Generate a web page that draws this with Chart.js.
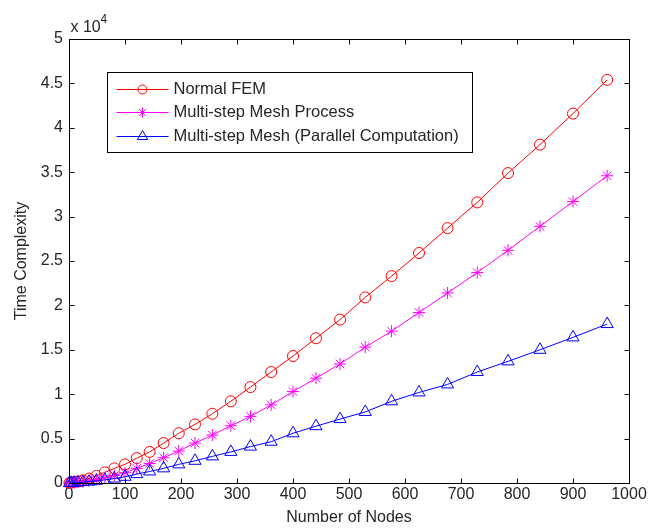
<!DOCTYPE html>
<html>
<head>
<meta charset="utf-8">
<title>Time Complexity vs Number of Nodes</title>
<script src="https://cdn.jsdelivr.net/npm/chart.js@4/dist/chart.umd.min.js"></script>
<style>
  html, body { margin: 0; padding: 0; background: #fff; }
  canvas { display: block; }
</style>
</head>
<body>
<canvas id="complexityChart" width="659" height="529"></canvas>
<script>
// node counts (n^2 grid sizes)
var nodes = [1, 4, 9, 16, 25, 36, 49, 64, 81, 100, 121, 144, 169, 196, 225, 256,
             289, 324, 361, 400, 441, 484, 529, 576, 625, 676, 729, 784, 841, 900, 961];

var normalFem = [10, 50, 100, 180, 300, 500, 800, 1200, 1650, 2100, 2800, 3500, 4500, 5600, 6600, 7800,
                 9200, 10800, 12500, 14300, 16300, 18400, 20900, 23300, 25900, 28700, 31600, 34900, 38100, 41600, 45400];

var multiStep = [0, 20, 50, 100, 150, 250, 400, 600, 850, 1160, 1650, 2200, 2850, 3600, 4500, 5400,
                 6450, 7500, 8800, 10300, 11800, 13400, 15300, 17100, 19200, 21400, 23700, 26200, 28900, 31700, 34600];

var multiStepParallel = [0, 10, 30, 50, 100, 150, 250, 350, 500, 700, 1000, 1300, 1650, 2100, 2500, 3000,
                         3500, 4100, 4650, 5600, 6400, 7200, 8000, 9200, 10200, 11100, 12500, 13700, 15000, 16400, 17900];

var seriesNames = ['Normal FEM', 'Multi-step Mesh Process', 'Multi-step Mesh (Parallel Computation)'];

var xTicks = [0, 100, 200, 300, 400, 500, 600, 700, 800, 900, 1000];
var yTicks = [0, 5000, 10000, 15000, 20000, 25000, 30000, 35000, 40000, 45000, 50000];

var FONT = '"Liberation Sans", Arial, Helvetica, sans-serif';
var TEXT = '#262626';

function toPoints(values) {
    return nodes.map(function(n, i) { return { x: n, y: values[i] }; });
}

// inward tick marks, box, exponent label and legend drawn on top of the plot
var matlabAxes = {
    id: 'matlabAxes',
    afterDraw: function(chart) {
        var ctx = chart.ctx;
        var a = chart.chartArea;
        var xs = chart.scales.x, ys = chart.scales.y;
        var L = Math.round(a.left) + 0.5, R = Math.round(a.right) + 0.5;
        var T = Math.round(a.top) + 0.5, B = Math.round(a.bottom) + 0.5;
        var tl = 5;

        ctx.save();
        ctx.strokeStyle = '#000';
        ctx.lineWidth = 1;
        ctx.beginPath();
        xTicks.forEach(function(v) {
            var px = Math.round(xs.getPixelForValue(v)) + 0.5;
            ctx.moveTo(px, B); ctx.lineTo(px, B - tl);
            ctx.moveTo(px, T); ctx.lineTo(px, T + tl);
        });
        yTicks.forEach(function(v) {
            var py = Math.round(ys.getPixelForValue(v)) + 0.5;
            ctx.moveTo(L, py); ctx.lineTo(L + tl, py);
            ctx.moveTo(R, py); ctx.lineTo(R - tl, py);
        });
        ctx.stroke();
        ctx.strokeRect(L, T, R - L, B - T);

        // x 10^4 exponent
        ctx.fillStyle = TEXT;
        ctx.textBaseline = 'alphabetic';
        ctx.textAlign = 'left';
        ctx.font = '16px ' + FONT;
        ctx.fillText('x 10', L + 1, T - 8);
        ctx.font = '12px ' + FONT;
        ctx.fillText('4', L + 31, T - 17);

        // legend
        var bx = L + 38, by = T + 33, bw = 365, bh = 80;
        ctx.fillStyle = '#fff';
        ctx.fillRect(bx, by, bw, bh);
        ctx.strokeStyle = '#000';
        ctx.strokeRect(bx, by, bw, bh);
        ctx.font = '16.5px ' + FONT;
        ctx.textBaseline = 'middle';
        chart.data.datasets.forEach(function(ds, i) {
            var y = Math.round(by + 16 + i * 23.5) + 0.5;
            ctx.strokeStyle = ds.borderColor;
            ctx.fillStyle = 'rgba(0,0,0,0)';
            ctx.lineWidth = 1;
            ctx.beginPath();
            ctx.moveTo(bx + 9, y);
            ctx.lineTo(bx + 61, y);
            ctx.stroke();
            Chart.helpers.drawPoint(ctx, {
                pointStyle: ds.pointStyle,
                radius: ds.pointRadius - 1,
                rotation: 0,
                borderWidth: 1
            }, bx + 35, y);
            ctx.fillStyle = TEXT;
            ctx.fillText(ds.label, bx + 66, y);
        });
        ctx.restore();
    }
};

document.addEventListener('DOMContentLoaded', function() {
    var ctx = document.getElementById('complexityChart').getContext('2d');
    var myChart = new Chart(ctx, {
        type: 'line',
        data: {
            datasets: [{
                label: seriesNames[0],
                data: toPoints(normalFem),
                borderColor: '#ff0000',
                pointStyle: 'circle',
                pointRadius: 5.5,
                order: 3
            }, {
                label: seriesNames[1],
                data: toPoints(multiStep),
                borderColor: '#ff00ff',
                pointStyle: 'star',
                pointRadius: 6,
                order: 2
            }, {
                label: seriesNames[2],
                data: toPoints(multiStepParallel),
                borderColor: '#0000ff',
                pointStyle: 'triangle',
                pointRadius: 7,
                order: 1
            }]
        },
        options: {
            responsive: false,
            animation: false,
            devicePixelRatio: 1,
            layout: { padding: { left: 0, top: 39, right: 30, bottom: 0 } },
            elements: {
                line: { borderWidth: 1, tension: 0, fill: false },
                point: { borderWidth: 1, backgroundColor: 'rgba(0,0,0,0)', hoverRadius: 6 }
            },
            datasets: { line: { clip: false } },
            plugins: {
                legend: { display: false },
                tooltip: { enabled: false }
            },
            scales: {
                x: {
                    type: 'linear',
                    min: 0,
                    max: 1000,
                    afterFit: function(scale) { scale.height = 46; },
                    afterBuildTicks: function(scale) {
                        scale.ticks = xTicks.map(function(v) { return { value: v }; });
                    },
                    grid: { display: false, drawTicks: false },
                    border: { display: false },
                    ticks: {
                        padding: 2,
                        maxRotation: 0,
                        color: TEXT,
                        font: { family: FONT, size: 16 },
                        callback: function(v) { return String(v); }
                    },
                    title: {
                        display: true,
                        text: 'Number of Nodes',
                        color: TEXT,
                        padding: { top: 0, bottom: 2 },
                        font: { family: FONT, size: 16 }
                    }
                },
                y: {
                    type: 'linear',
                    min: 0,
                    max: 50000,
                    afterFit: function(scale) { scale.width = 69; },
                    afterBuildTicks: function(scale) {
                        scale.ticks = yTicks.map(function(v) { return { value: v }; });
                    },
                    grid: { display: false, drawTicks: false },
                    border: { display: false },
                    ticks: {
                        padding: 6,
                        color: TEXT,
                        font: { family: FONT, size: 16 },
                        callback: function(v) { return String(v / 10000); }
                    },
                    title: {
                        display: true,
                        text: 'Time Complexity',
                        color: TEXT,
                        padding: { top: 12, bottom: 0 },
                        font: { family: FONT, size: 16 }
                    }
                }
            }
        },
        plugins: [matlabAxes]
    });
});
</script>
</body>
</html>
